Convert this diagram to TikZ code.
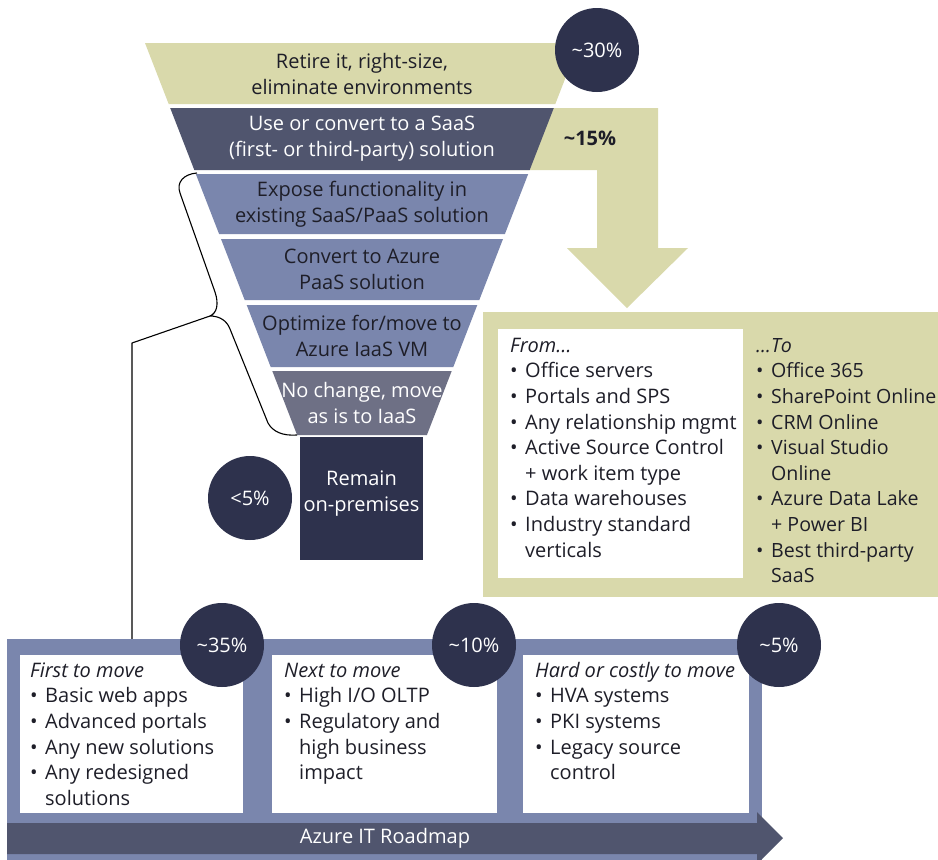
\documentclass[tikz,border=0pt]{standalone}
\usepackage{fontspec}
\setmainfont{Open Sans}
\definecolor{khaki}{HTML}{D9D9AB}
\definecolor{slate}{HTML}{50556E}
\definecolor{navy}{HTML}{2E324D}
\definecolor{periw}{HTML}{7A86AD}
\definecolor{grayband}{HTML}{6E7085}
\definecolor{ink}{HTML}{1E1E28}
\newcommand\itm[1]{\makebox[15pt][l]{\textbullet}#1}
\newcommand\cnt[1]{\hspace*{15pt}#1}
\newcommand\fstrut{\rule{0pt}{16pt}}
\begin{document}
\begin{tikzpicture}[x=1pt,y=-1pt,
  every node/.style={inner sep=0pt},
  blabel/.style={align=center, font=\fontsize{20}{26}\selectfont},
  pct/.style={circle, fill=navy, minimum size=84pt, text=white, font=\fontsize{20}{24}\selectfont},
  lst/.style={align=left, anchor=north west, text=ink, font=\fontsize{20}{25.6}\selectfont},
  brace/.style={draw=black, line width=1.1pt, line join=round}]
\useasboundingbox (0,0) rectangle (938,860);
\fill[white] (0,0) rectangle (938,860);

% khaki L arrow
\fill[khaki] (500,108) -- (658,108) -- (658,248) -- (688,248) -- (627,308) -- (567,248) -- (597,248) -- (597,170) -- (500,170) -- cycle;

% funnel bands
\fill[khaki] (145,43) -- (579,43) -- (555.3,104) -- (168.7,104) -- cycle;
\fill[slate] (170.2,108) -- (553.8,108) -- (529.7,170) -- (194.3,170) -- cycle;
\fill[periw] (195.8,174) -- (528.2,174) -- (504.9,234) -- (219.1,234) -- cycle;
\fill[periw] (221.0,239) -- (503.0,239) -- (479.3,300) -- (244.7,300) -- cycle;
\fill[periw] (246.7,305) -- (477.3,305) -- (453.3,367) -- (270.7,367) -- cycle;
\fill[grayband] (272.3,371) -- (451.7,371) -- (426.9,435) -- (297.1,435) -- cycle;
\fill[navy] (300,437) rectangle (423,560);

\node[blabel, text=ink] (t1) at (362,73.5) {Retire it, right-size,\\eliminate environments};
\node[blabel, text=white] (t2) at (362,139) {Use or convert to a SaaS\\(first- or third-party) solution};
\node[blabel, text=ink] (t3) at (362,204) {Expose functionality in\\existing SaaS/PaaS solution};
\node[blabel, text=ink] (t4) at (362,269.5) {Convert to Azure\\PaaS solution};
\node[blabel, text=ink] (t5) at (362,336) {Optimize for/move to\\Azure IaaS VM};
\node[blabel, text=white] (t6) at (362,403) {No change, move\\as is to IaaS};
\node[blabel, text=white] (t7) at (361.5,494) {Remain\\on-premises};

\node[pct] (c30) at (597,50) {\textasciitilde30\%};
\node[text=ink, font=\fontsize{20}{24}\selectfont\bfseries] (q15) at (590,138) {\textasciitilde15\%};
\node[pct] (c5) at (250,498) {\textless5\%};

% from/to box
\fill[khaki] (483,312) rectangle (938,597);
\fill[white] (498,329) rectangle (743,578);
\node[lst] (from) at (510,336) {\fstrut\textit{From…}\\\itm{Office servers}\\\itm{Portals and SPS}\\\itm{Any relationship mgmt}\\\itm{Active Source Control}\\\cnt{+ work item type}\\\itm{Data warehouses}\\\itm{Industry standard}\\\cnt{verticals}};
\node[lst, font=\fontsize{19.6}{25.6}\selectfont] (to) at (756,336) {\fstrut\textit{…To}\\\itm{Office 365}\\\itm{SharePoint Online}\\\itm{CRM Online}\\\itm{Visual Studio}\\\cnt{Online}\\\itm{Azure Data Lake}\\\cnt{+ Power BI}\\\itm{Best third-party}\\\cnt{SaaS}};

% bracket
\coordinate (btop) at (197,173);
\coordinate (btip) at (210,316);
\coordinate (bbot) at (297,435);
\coordinate (bend) at (132,343);
\coordinate (bfoot) at (132,639);
\draw[brace] (btop) .. controls (184,174) and (176,182) .. (180,193) -- (215,292) .. controls (219,304) and (217,313) .. (btip) .. controls (220,316) and (227,321) .. (230,329) -- (268,423) .. controls (273,432) and (283,436) .. (bbot);
\draw[brace] (btip) -- (bend) -- (bfoot);

% roadmap
\fill[periw] (7,639) rectangle (762,860);
\fill[white] (20,655) rectangle (243,813);
\fill[white] (272,655) rectangle (497,813);
\fill[white] (523,655) rectangle (749,813);
\fill[slate] (7,823) -- (757,823) -- (757,812) -- (783,838) -- (757,864) -- (757,854) -- (7,854) -- cycle;
\node[text=white, font=\fontsize{20}{24}\selectfont] (road) at (385,838) {Azure IT Roadmap};

\node[lst] (b1) at (30,661) {\fstrut\textit{First to move}\\\itm{Basic web apps}\\\itm{Advanced portals}\\\itm{Any new solutions}\\\itm{Any redesigned}\\\cnt{solutions}};
\node[lst] (b2) at (284,661) {\fstrut\textit{Next to move}\\\itm{High I/O OLTP}\\\itm{Regulatory and}\\\cnt{high business}\\\cnt{impact}};
\node[lst] (b3) at (535,661) {\fstrut\textit{Hard or costly to move}\\\itm{HVA systems}\\\itm{PKI systems}\\\itm{Legacy source}\\\cnt{control}};

\node[pct] (c35) at (222,645) {\textasciitilde35\%};
\node[pct] (c10) at (474,645) {\textasciitilde10\%};
\node[pct] (c5b) at (779,645) {\textasciitilde5\%};
\end{tikzpicture}
\end{document}
